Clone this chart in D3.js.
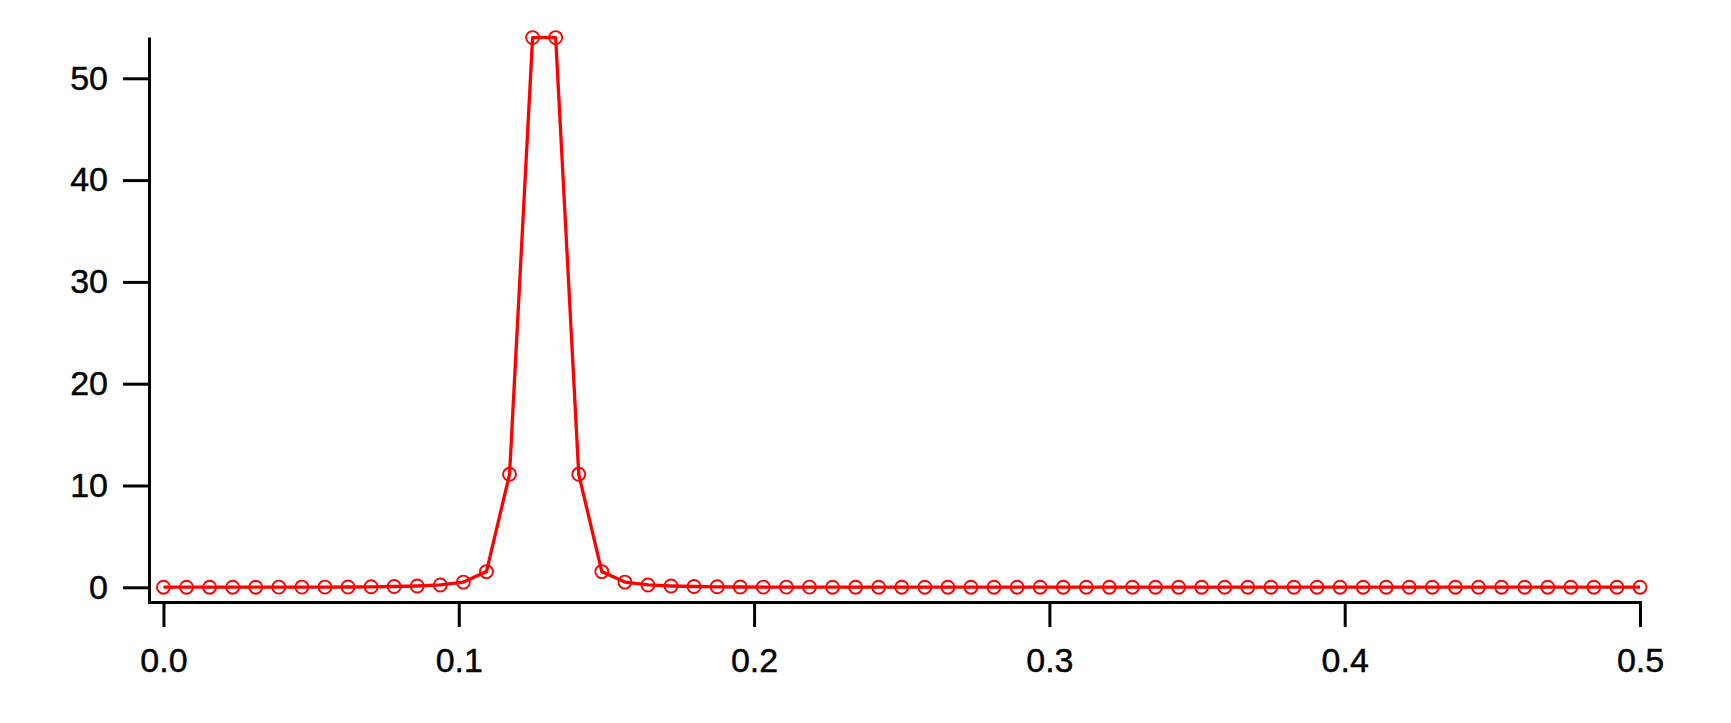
<!DOCTYPE html>
<html>
<head>
<meta charset="utf-8">
<script src="https://cdn.jsdelivr.net/npm/d3@7"></script>
<style>
  html, body { margin: 0; padding: 0; background: #fff; }
  svg { display: block; }
  .axis text { font-family: "Liberation Sans", Arial, Helvetica, sans-serif; font-size: 34px; fill: #000; stroke: #000; stroke-width: 0.45px; }
  .axis path, .axis line { stroke: #000; stroke-width: 3px; }
</style>
</head>
<body>
<svg id="chart" width="1731" height="723"></svg>
<script>
// ---- data ----
const xStep = 1 / 128;
const xIndex = d3.range(65);
const yValues = [
  0.01, 0.01, 0.01, 0.01, 0.01, 0.02, 0.02, 0.02, 0.03, 0.05,
  0.08, 0.13, 0.23, 0.51, 1.54, 11.1, 54.0, 54.0, 11.1, 1.54,
  0.51, 0.23, 0.13, 0.08, 0.05, 0.03, 0.02, 0.02, 0.02, 0.01,
  0.01, 0.01, 0.01, 0.01, 0.01, 0.01, 0.01, 0.01, 0.01, 0.01,
  0.01, 0.01, 0.01, 0.01, 0.01, 0.01, 0.01, 0.01, 0.01, 0.01,
  0.01, 0.01, 0.01, 0.01, 0.01, 0.01, 0.01, 0.01, 0.01, 0.01,
  0.01, 0.01, 0.01, 0.01, 0.01
];
const xTicks = [0.0, 0.1, 0.2, 0.3, 0.4, 0.5];
const yTicks = [0, 10, 20, 30, 40, 50];

const data = xIndex.map((i, k) => ({ x: i * xStep, y: yValues[k] }));

// ---- layout ----
const svg = d3.select("#chart");
const x = d3.scaleLinear().domain([-0.0049, 0.5]).range([149, 1640]);
const y = d3.scaleLinear().domain([-1.444, 53.9]).range([602, 38.6]);

// axes
const xAxis = d3.axisBottom(x).tickValues(xTicks).tickFormat(d3.format(".1f"))
  .tickSize(25).tickSizeOuter(0).tickPadding(21);
const yAxis = d3.axisLeft(y).tickValues(yTicks).tickFormat(d3.format("d"))
  .tickSize(26).tickSizeOuter(0).tickPadding(15);

svg.append("g").attr("class", "axis")
  .attr("transform", `translate(0,${y.range()[0]})`).call(xAxis);
svg.append("g").attr("class", "axis")
  .attr("transform", `translate(${x.range()[0]},0)`).call(yAxis);

svg.selectAll(".axis path").attr("stroke-linecap", "square");

// line
const line = d3.line().x(d => x(d.x)).y(d => y(d.y));
svg.append("path").datum(data)
  .attr("d", line)
  .attr("fill", "none")
  .attr("stroke", "#ff0000")
  .attr("stroke-width", 3.3)
  .attr("stroke-linejoin", "round");

// markers
svg.append("g").selectAll("circle").data(data).join("circle")
  .attr("cx", d => x(d.x))
  .attr("cy", d => y(d.y))
  .attr("r", 6.5)
  .attr("fill", "none")
  .attr("stroke", "#ff0000")
  .attr("stroke-width", 1.9);
</script>
</body>
</html>
